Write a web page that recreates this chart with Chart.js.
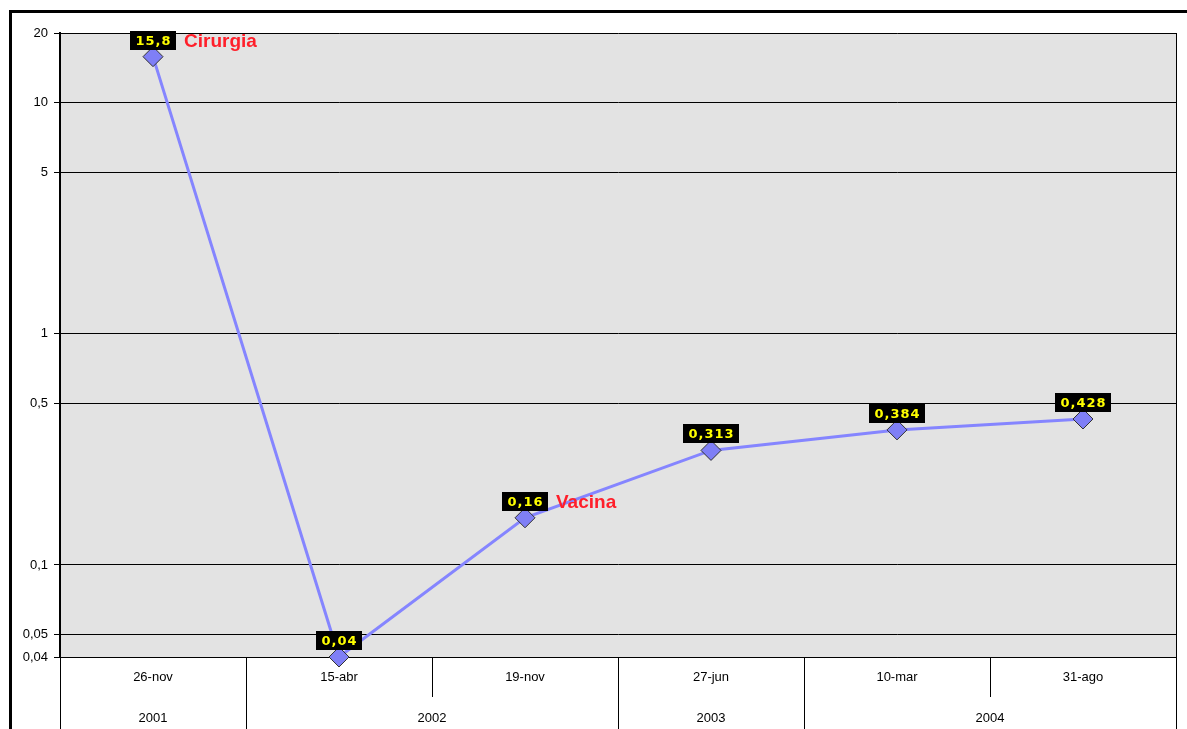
<!DOCTYPE html>
<html>
<head>
<meta charset="utf-8">
<script src="https://cdn.jsdelivr.net/npm/chart.js@4/dist/chart.umd.min.js"></script>
<style>
  html, body { margin: 0; padding: 0; background: #fff; }
  #wrap { width: 1187px; height: 729px; position: relative; }
</style>
</head>
<body>
<div id="wrap"><canvas id="grafico"></canvas></div>
<script>
// dados
const datas = ['26-nov', '15-abr', '19-nov', '27-jun', '10-mar', '31-ago'];
const anos = ['2001', '2002', '2002', '2003', '2004', '2004'];
const valores = [15.8, 0.04, 0.16, 0.313, 0.384, 0.428];
const notas = ['Cirurgia', '', 'Vacina', '', '', ''];
const marcasY = [20, 10, 5, 1, 0.5, 0.1, 0.05, 0.04];

const virgula = v => String(v).replace('.', ',');

// fundo, moldura e eixo de categorias em dois níveis
const moldura = {
  id: 'moldura',
  beforeDraw(chart) {
    const ctx = chart.ctx, a = chart.chartArea;
    ctx.save();
    ctx.fillStyle = '#fff';
    ctx.fillRect(0, 0, chart.width, chart.height);
    ctx.fillStyle = '#e3e3e3';
    ctx.fillRect(a.left, a.top, a.right - a.left, a.bottom - a.top);
    ctx.restore();
  },
  afterDraw(chart) {
    const ctx = chart.ctx, a = chart.chartArea, x = chart.scales.x;
    const fundo = chart.height;
    ctx.save();
    ctx.strokeStyle = '#000';
    ctx.lineWidth = 1;
    // separadores entre categorias
    for (let i = 0; i <= datas.length; i++) {
      let px;
      if (i === 0) px = a.left;
      else if (i === datas.length) px = a.right;
      else px = (x.getPixelForValue(i - 1) + x.getPixelForValue(i)) / 2;
      const mudaAno = i === 0 || i === datas.length || anos[i] !== anos[i - 1];
      ctx.beginPath();
      ctx.moveTo(Math.round(px) + 0.5, a.bottom);
      ctx.lineTo(Math.round(px) + 0.5, mudaAno ? fundo : a.bottom + 40);
      ctx.stroke();
    }
    // borda direita da área
    ctx.beginPath();
    ctx.moveTo(Math.round(a.right) + 0.5, a.top);
    ctx.lineTo(Math.round(a.right) + 0.5, fundo);
    ctx.stroke();
    // anos
    ctx.fillStyle = '#000';
    ctx.font = '13px "Liberation Sans", Arial, sans-serif';
    ctx.textAlign = 'center';
    ctx.textBaseline = 'middle';
    let ini = 0;
    for (let i = 1; i <= anos.length; i++) {
      if (i === anos.length || anos[i] !== anos[ini]) {
        const px = (x.getPixelForValue(ini) + x.getPixelForValue(i - 1)) / 2;
        ctx.fillText(anos[ini], px, a.bottom + 61);
        ini = i;
      }
    }
    // moldura externa
    ctx.lineWidth = 3;
    ctx.beginPath();
    ctx.moveTo(10.5, chart.height);
    ctx.lineTo(10.5, 11.5);
    ctx.lineTo(chart.width, 11.5);
    ctx.stroke();
    ctx.restore();
  }
};

// rótulos pretos com valor amarelo e notas em vermelho
const rotulos = {
  id: 'rotulos',
  afterDatasetsDraw(chart) {
    const ctx = chart.ctx;
    const pts = chart.getDatasetMeta(0).data;
    ctx.save();
    pts.forEach((p, i) => {
      const txt = virgula(valores[i]);
      ctx.font = 'bold 13px "DejaVu Sans", Verdana, sans-serif';
      ctx.letterSpacing = '1px';
      const w = Math.round(ctx.measureText(txt).width + 10);
      const h = 19;
      const bx = Math.round(p.x - w / 2), by = Math.round(p.y - 7 - h);
      ctx.fillStyle = '#000';
      ctx.fillRect(bx, by, w, h);
      ctx.fillStyle = '#ffff00';
      ctx.textAlign = 'center';
      ctx.textBaseline = 'middle';
      ctx.fillText(txt, p.x + 0.5, by + h / 2 + 1);
      if (notas[i]) {
        ctx.letterSpacing = '0px';
        ctx.font = 'bold 19px "Liberation Sans", Arial, sans-serif';
        ctx.fillStyle = '#ff1f2a';
        ctx.textAlign = 'left';
        ctx.fillText(notas[i], bx + w + 8, by + h / 2 + 1);
      }
    });
    ctx.restore();
  }
};

new Chart(document.getElementById('grafico'), {
  type: 'line',
  data: {
    labels: datas,
    datasets: [{
      data: valores,
      borderColor: '#8585ff',
      borderWidth: 3,
      tension: 0,
      pointStyle: 'rectRot',
      pointRadius: 10,
      pointBackgroundColor: '#7f7ff6',
      pointBorderColor: '#333',
      pointBorderWidth: 1,
      clip: false
    }]
  },
  options: {
    responsive: true,
    maintainAspectRatio: false,
    animation: false,
    layout: { padding: { top: 33, right: 10, left: 0, bottom: 0 } },
    plugins: { legend: { display: false }, tooltip: { enabled: false } },
    scales: {
      x: {
        type: 'category',
        offset: true,
        grid: { display: false, drawTicks: false },
        border: { display: true, color: '#000', width: 1 },
        ticks: {
          color: '#000',
          padding: 13,
          maxRotation: 0,
          font: { family: '"Liberation Sans", Arial, sans-serif', size: 13 }
        },
        afterFit: s => { s.height = 72; }
      },
      y: {
        type: 'logarithmic',
        min: 0.04,
        max: 20,
        afterBuildTicks: s => { s.ticks = marcasY.map(v => ({ value: v })); },
        afterFit: s => { s.width = 60; },
        grid: { color: '#000', lineWidth: 1, tickLength: 6 },
        border: { color: '#000', width: 2 },
        ticks: {
          color: '#000',
          padding: 6,
          autoSkip: false,
          font: { family: '"Liberation Sans", Arial, sans-serif', size: 13 },
          callback: v => virgula(v)
        }
      }
    }
  },
  plugins: [moldura, rotulos]
});
</script>
</body>
</html>
